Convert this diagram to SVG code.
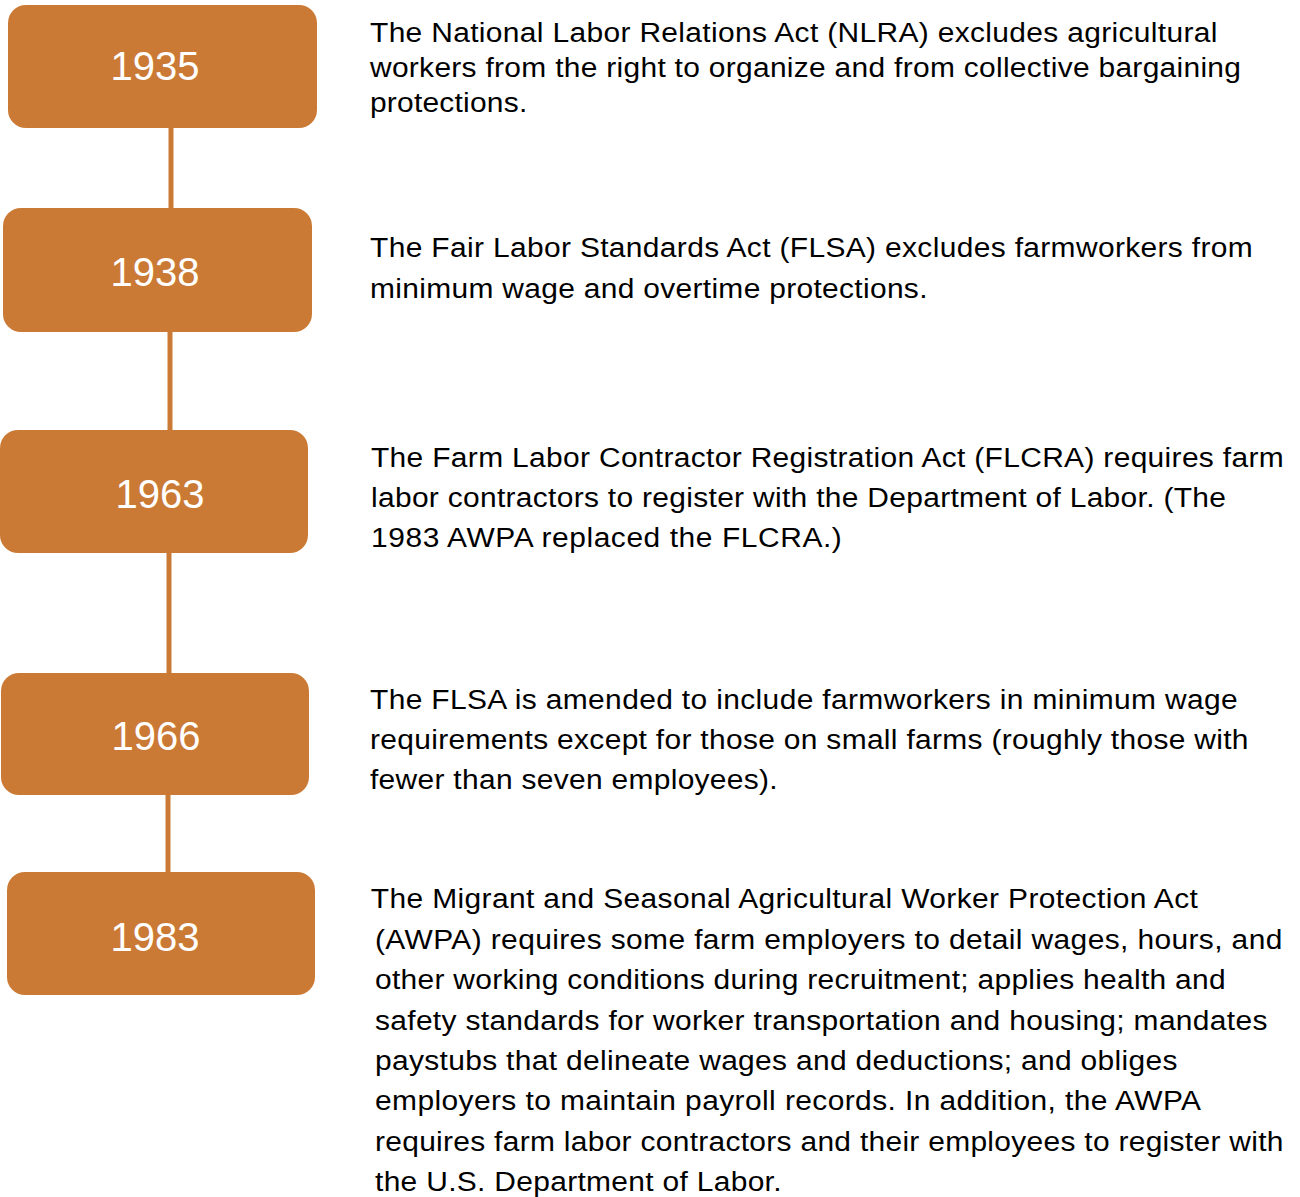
<svg xmlns="http://www.w3.org/2000/svg" width="1300" height="1197" viewBox="0 0 1300 1197">
<style>
.box{fill:#CB7A35;}
.yr{font-family:"Liberation Sans",Arial,sans-serif;font-size:40px;fill:#FFFFFF;text-anchor:middle;}
.body{font-family:"Liberation Sans",Arial,sans-serif;font-size:28px;fill:#000000;}
.conn{stroke:#CB7A35;stroke-width:5;fill:none;}
</style>
<rect width="1300" height="1197" fill="#FFFFFF"/>
<g id="connectors">
<line class="conn" x1="171" y1="127" x2="171" y2="210"/>
<line class="conn" x1="170" y1="330" x2="170" y2="432"/>
<line class="conn" x1="169" y1="552" x2="169" y2="674"/>
<line class="conn" x1="168" y1="794" x2="168" y2="873"/>
</g>
<g id="node-1935">
<rect class="box" x="8" y="5" width="309" height="123" rx="18"/>
<text class="yr" x="155" y="80">1935</text>
<text class="body" transform="translate(370,0) scale(1.07,1) translate(-370,0)"><tspan x="370" y="42" textLength="792" lengthAdjust="spacing">The National Labor Relations Act (NLRA) excludes agricultural</tspan><tspan x="370" y="77" textLength="814" lengthAdjust="spacing">workers from the right to organize and from collective bargaining</tspan><tspan x="370" y="112" textLength="147" lengthAdjust="spacing">protections.</tspan></text>
</g>
<g id="node-1938">
<rect class="box" x="3" y="208" width="309" height="124" rx="18"/>
<text class="yr" x="155" y="286">1938</text>
<text class="body" transform="translate(370,0) scale(1.07,1) translate(-370,0)"><tspan x="370" y="257" textLength="825" lengthAdjust="spacing">The Fair Labor Standards Act (FLSA) excludes farmworkers from</tspan><tspan x="370" y="298" textLength="521" lengthAdjust="spacing">minimum wage and overtime protections.</tspan></text>
</g>
<g id="node-1963">
<rect class="box" x="0" y="430" width="308" height="123" rx="18"/>
<text class="yr" x="160" y="508">1963</text>
<text class="body" transform="translate(371,0) scale(1.07,1) translate(-371,0)"><tspan x="371" y="467" textLength="853" lengthAdjust="spacing">The Farm Labor Contractor Registration Act (FLCRA) requires farm</tspan><tspan x="371" y="507" textLength="799" lengthAdjust="spacing">labor contractors to register with the Department of Labor. (The</tspan><tspan x="371" y="547" textLength="440" lengthAdjust="spacing">1983 AWPA replaced the FLCRA.)</tspan></text>
</g>
<g id="node-1966">
<rect class="box" x="1" y="673" width="308" height="122" rx="18"/>
<text class="yr" x="156" y="750">1966</text>
<text class="body" transform="translate(370,0) scale(1.07,1) translate(-370,0)"><tspan x="370" y="709" textLength="811" lengthAdjust="spacing">The FLSA is amended to include farmworkers in minimum wage</tspan><tspan x="370" y="749" textLength="821" lengthAdjust="spacing">requirements except for those on small farms (roughly those with</tspan><tspan x="370" y="789" textLength="381" lengthAdjust="spacing">fewer than seven employees).</tspan></text>
</g>
<g id="node-1983">
<rect class="box" x="7" y="872" width="308" height="123" rx="18"/>
<text class="yr" x="155" y="951">1983</text>
<text class="body" transform="translate(375,0) scale(1.07,1) translate(-375,0)"><tspan x="371" y="908" textLength="773" lengthAdjust="spacing">The Migrant and Seasonal Agricultural Worker Protection Act</tspan><tspan x="375" y="949" textLength="848" lengthAdjust="spacing">(AWPA) requires some farm employers to detail wages, hours, and</tspan><tspan x="375" y="989" textLength="795" lengthAdjust="spacing">other working conditions during recruitment; applies health and</tspan><tspan x="375" y="1030" textLength="834" lengthAdjust="spacing">safety standards for worker transportation and housing; mandates</tspan><tspan x="375" y="1070" textLength="750" lengthAdjust="spacing">paystubs that delineate wages and deductions; and obliges</tspan><tspan x="375" y="1110" textLength="772" lengthAdjust="spacing">employers to maintain payroll records. In addition, the AWPA</tspan><tspan x="375" y="1151" textLength="849" lengthAdjust="spacing">requires farm labor contractors and their employees to register with</tspan><tspan x="375" y="1191" textLength="380" lengthAdjust="spacing">the U.S. Department of Labor.</tspan></text>
</g>
</svg>
